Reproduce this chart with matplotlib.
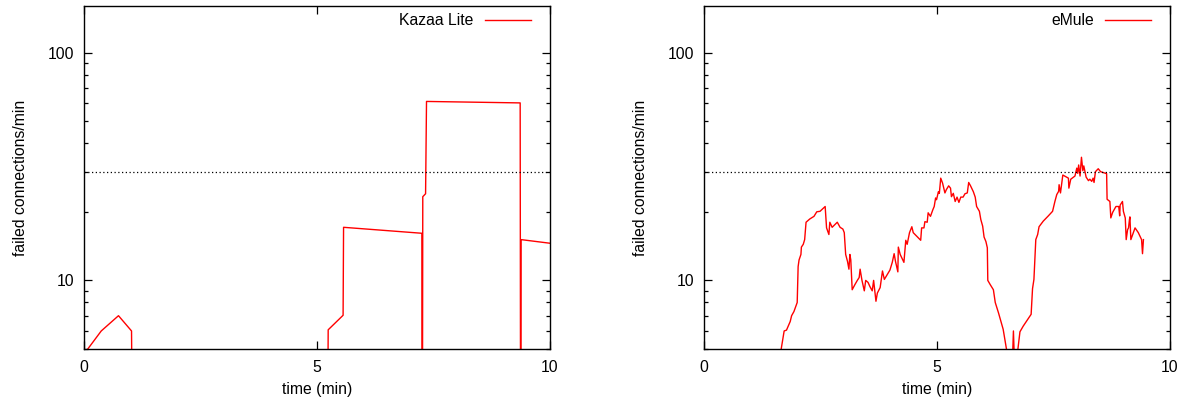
import matplotlib
matplotlib.use("Agg")
import matplotlib.pyplot as plt
from matplotlib.ticker import LogLocator, FixedLocator, NullFormatter, FixedFormatter

plt.rcParams['font.family'] = ['Liberation Sans', 'DejaVu Sans']

# ---- data ----
kazaa_t = [0.0, 0.37, 0.74, 1.02, 1.05, 5.22, 5.24, 5.56, 5.57, 7.25, 7.26, 7.27, 7.33, 7.35, 9.36, 9.37, 9.38, 10.3]
kazaa_v = [4.75, 6.0, 7.0, 6.0, 1.0, 1.0, 6.07, 7.03, 17.1, 16.1, 1.0, 23.3, 24.0, 61.0, 60.1, 1.0, 15.1, 14.3]

emule_t = [1.62, 1.72, 1.77, 1.85, 1.88, 1.93, 2.00, 2.02, 2.04, 2.08, 2.09, 2.13, 2.16, 2.19,
           2.27, 2.36, 2.42, 2.49, 2.60, 2.63, 2.68, 2.70, 2.75, 2.86, 2.92, 2.98, 3.01, 3.04,
           3.08, 3.11, 3.13, 3.15, 3.18, 3.24, 3.29, 3.33, 3.35, 3.39, 3.44, 3.47, 3.52, 3.56,
           3.61, 3.64, 3.69, 3.72, 3.78, 3.83, 3.87, 3.92, 3.99, 4.04, 4.08, 4.11, 4.16, 4.17,
           4.21, 4.29, 4.33, 4.36, 4.41, 4.46, 4.49, 4.65, 4.67, 4.72, 4.74, 4.79, 4.81, 4.86,
           4.91, 4.94, 4.97, 4.99, 5.03, 5.05, 5.08, 5.12, 5.17, 5.20, 5.25, 5.29, 5.31, 5.35,
           5.39, 5.43, 5.47, 5.51, 5.56, 5.60, 5.65, 5.68, 5.72, 5.78, 5.82, 5.85, 5.91, 5.94,
           5.98, 6.01, 6.05, 6.08, 6.09, 6.14, 6.21, 6.25, 6.32, 6.42, 6.52, 6.62, 6.64, 6.66,
           6.71, 6.78, 6.85, 7.02, 7.05, 7.08, 7.12, 7.16, 7.19, 7.28, 7.39, 7.48, 7.53, 7.57,
           7.61, 7.62, 7.65, 7.70, 7.82, 7.83, 7.87, 7.96, 8.00, 8.02, 8.04, 8.07, 8.10, 8.13,
           8.15, 8.20, 8.25, 8.28, 8.32, 8.35, 8.37, 8.40, 8.46, 8.51, 8.64, 8.65, 8.71, 8.73,
           8.77, 8.80, 8.84, 8.90, 8.92, 8.93, 8.98, 9.00, 9.04, 9.06, 9.09, 9.11, 9.13, 9.14,
           9.16, 9.20, 9.25, 9.32, 9.37, 9.39, 9.41, 9.43]
emule_v = [4.5, 6.0, 6.05, 6.6, 7.0, 7.3, 8.0, 11.5, 12.3, 13.0, 14.0, 14.4, 15.1, 18.0,
           18.6, 19.1, 20.0, 20.1, 21.1, 17.0, 15.9, 18.0, 17.1, 18.0, 17.1, 16.8, 16.2, 13.0,
           12.1, 11.2, 13.0, 12.3, 9.1, 9.6, 10.0, 10.3, 11.2, 10.0, 9.0, 10.0, 9.8, 9.4,
           9.0, 10.0, 8.1, 8.8, 9.3, 11.0, 10.1, 10.5, 11.1, 12.0, 13.1, 12.1, 10.9, 14.0,
           13.0, 12.0, 15.0, 14.4, 16.2, 17.2, 16.2, 15.0, 17.0, 17.0, 18.1, 18.0, 19.8, 19.1,
           20.4, 21.1, 23.0, 22.6, 24.5, 24.1, 28.1, 26.7, 24.2, 25.0, 26.0, 25.4, 23.3, 24.1,
           22.2, 23.2, 22.0, 23.2, 23.2, 24.0, 24.2, 26.9, 26.0, 24.5, 23.2, 21.1, 20.1, 18.5,
           17.3, 15.5, 14.8, 13.9, 10.0, 9.6, 9.1, 8.0, 7.2, 6.1, 4.6, 4.5, 6.0, 4.5,
           4.5, 5.95, 6.3, 7.1, 9.2, 10.1, 15.1, 15.9, 17.2, 18.2, 19.2, 20.1, 22.2, 23.8,
           24.6, 26.3, 24.2, 29.0, 28.1, 25.4, 27.8, 28.7, 31.1, 29.5, 32.1, 28.7, 34.7, 30.3,
           31.8, 28.4, 27.4, 27.8, 27.2, 28.1, 26.9, 30.0, 30.9, 30.0, 29.4, 22.7, 22.2, 18.8,
           19.9, 20.4, 21.1, 21.1, 19.2, 21.4, 22.2, 20.1, 18.8, 15.1, 16.7, 17.0, 18.5, 19.0,
           15.1, 15.9, 17.0, 16.2, 15.4, 15.1, 13.1, 15.1]

threshold = 30
x_ticks = [0, 5, 10]
y_major = [10, 100]
y_labels = ["10", "100"]
panels = [("Kazaa Lite", kazaa_t, kazaa_v), ("eMule", emule_t, emule_v)]

# ---- figure ----
FS = 11.3
fig = plt.figure(figsize=(11.89, 4.03), dpi=100)
lefts = [84 / 1189, 704 / 1189]
W = 466 / 1189
B = 1 - 349 / 403
H = (349 - 6) / 403

for left, (name, t, v) in zip(lefts, panels):
    ax = fig.add_axes([left, B, W, H])
    ax.set_yscale('log')
    ax.plot(t, v, color='#ff0000', lw=1.0, label=name)
    ax.axhline(threshold, color='black', lw=0.9, linestyle=(0, (1, 2)))
    ax.set_xlim(0, 10)
    ax.set_ylim(5, 160)
    ax.xaxis.set_major_locator(FixedLocator(x_ticks))
    ax.set_xticklabels([str(x) for x in x_ticks])
    ax.yaxis.set_major_locator(FixedLocator(y_major))
    ax.yaxis.set_major_formatter(FixedFormatter(y_labels))
    ax.yaxis.set_minor_locator(LogLocator(base=10, subs=[2, 3, 4, 5, 6, 7, 8, 9]))
    ax.yaxis.set_minor_formatter(NullFormatter())
    ax.tick_params(which='both', direction='in', top=True, right=True, labelsize=FS,
                   width=0.9, colors='black')
    ax.tick_params(axis='x', pad=8)
    ax.tick_params(axis='y', pad=7)
    ax.tick_params(which='major', length=6)
    ax.tick_params(which='minor', length=3)
    for s in ax.spines.values():
        s.set_linewidth(1.0)
    ax.set_xlabel("time (min)", fontsize=FS, labelpad=5)
    ax.set_ylabel("failed connections/min", fontsize=FS, labelpad=14)
    leg = ax.legend(loc='upper right', bbox_to_anchor=(1 - 19 / 466, 1 - 7 / 343),
                    markerfirst=False, frameon=False, fontsize=FS,
                    handlelength=2.9, borderpad=0.0, borderaxespad=0.0, handletextpad=0.75)

fig.savefig("out.png", dpi=100)
